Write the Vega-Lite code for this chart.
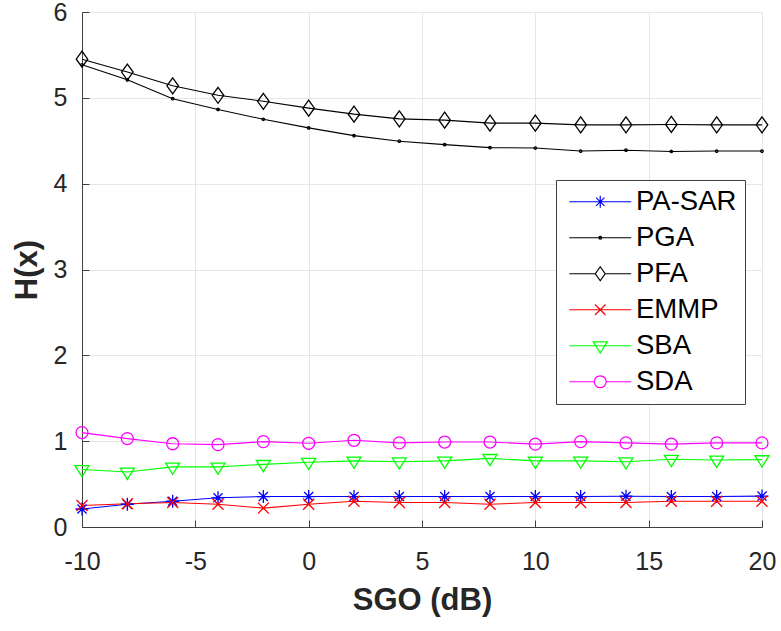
{
  "$schema": "https://vega.github.io/schema/vega-lite/v6.json",
  "width": 680,
  "height": 515,
  "autosize": {"type": "none"},
  "padding": {"left": 82, "top": 12, "right": 19, "bottom": 104},
  "background": "white",
  "config": {
    "view": {"stroke": null},
    "font": "Liberation Sans",
    "axis": {
      "labelFont": "Liberation Sans",
      "titleFont": "Liberation Sans",
      "labelFontSize": 25,
      "labelColor": "#262626",
      "titleColor": "#262626",
      "titleFontSize": 31,
      "titleFontWeight": "bold",
      "domainColor": "#404040",
      "tickColor": "#404040",
      "tickSize": -7,
      "gridColor": "#e6e6e6",
      "gridWidth": 1
    }
  },
  "data": {
    "values": [
      {"x": -10, "PA-SAR": 0.21, "PGA": 5.385, "PFA": 5.45, "EMMP": 0.25, "SBA": 0.67, "SDA": 1.10},
      {"x": -8, "PA-SAR": 0.265, "PGA": 5.21, "PFA": 5.30, "EMMP": 0.27, "SBA": 0.64, "SDA": 1.03},
      {"x": -6, "PA-SAR": 0.30, "PGA": 4.99, "PFA": 5.14, "EMMP": 0.285, "SBA": 0.70, "SDA": 0.97},
      {"x": -4, "PA-SAR": 0.34, "PGA": 4.865, "PFA": 5.03, "EMMP": 0.265, "SBA": 0.70, "SDA": 0.96},
      {"x": -2, "PA-SAR": 0.355, "PGA": 4.75, "PFA": 4.96, "EMMP": 0.22, "SBA": 0.73, "SDA": 0.995},
      {"x": 0, "PA-SAR": 0.355, "PGA": 4.65, "PFA": 4.88, "EMMP": 0.265, "SBA": 0.755, "SDA": 0.975},
      {"x": 2, "PA-SAR": 0.355, "PGA": 4.56, "PFA": 4.81, "EMMP": 0.30, "SBA": 0.77, "SDA": 1.01},
      {"x": 4, "PA-SAR": 0.355, "PGA": 4.495, "PFA": 4.755, "EMMP": 0.285, "SBA": 0.76, "SDA": 0.98},
      {"x": 6, "PA-SAR": 0.355, "PGA": 4.455, "PFA": 4.74, "EMMP": 0.285, "SBA": 0.77, "SDA": 0.99},
      {"x": 8, "PA-SAR": 0.355, "PGA": 4.42, "PFA": 4.705, "EMMP": 0.265, "SBA": 0.80, "SDA": 0.99},
      {"x": 10, "PA-SAR": 0.355, "PGA": 4.415, "PFA": 4.705, "EMMP": 0.285, "SBA": 0.77, "SDA": 0.965},
      {"x": 12, "PA-SAR": 0.355, "PGA": 4.38, "PFA": 4.685, "EMMP": 0.285, "SBA": 0.77, "SDA": 0.995},
      {"x": 14, "PA-SAR": 0.358, "PGA": 4.39, "PFA": 4.685, "EMMP": 0.285, "SBA": 0.76, "SDA": 0.98},
      {"x": 16, "PA-SAR": 0.355, "PGA": 4.375, "PFA": 4.69, "EMMP": 0.30, "SBA": 0.79, "SDA": 0.965},
      {"x": 18, "PA-SAR": 0.355, "PGA": 4.38, "PFA": 4.685, "EMMP": 0.30, "SBA": 0.78, "SDA": 0.98},
      {"x": 20, "PA-SAR": 0.36, "PGA": 4.38, "PFA": 4.685, "EMMP": 0.30, "SBA": 0.785, "SDA": 0.98}
    ]
  },
  "transform": [
    {"fold": ["PA-SAR", "PGA", "PFA", "EMMP", "SBA", "SDA"], "as": ["series", "y"]}
  ],
  "encoding": {
    "x": {
      "field": "x",
      "type": "quantitative",
      "scale": {"domain": [-10, 20], "nice": false, "zero": false},
      "axis": {"values": [-10, -5, 0, 5, 10, 15, 20], "title": "SGO (dB)", "labelPadding": 29, "titlePadding": 11, "labelFlush": false, "labelExpr": "'' + datum.value"}
    },
    "y": {
      "field": "y",
      "type": "quantitative",
      "scale": {"domain": [0, 6], "nice": false},
      "axis": {"values": [0, 1, 2, 3, 4, 5, 6], "title": "H(x)", "labelPadding": 22, "titlePadding": 10}
    }
  },
  "layer": [
    {
      "mark": {"type": "line", "strokeWidth": 1.1, "clip": false},
      "encoding": {
        "color": {
          "field": "series",
          "type": "nominal",
          "scale": {
            "domain": ["PA-SAR", "PGA", "PFA", "EMMP", "SBA", "SDA"],
            "range": ["#0000ff", "#000000", "#000000", "#ff0000", "#00ff00", "#ff00ff"]
          },
          "legend": null
        }
      }
    },
    {
      "mark": {"type": "point", "filled": false, "strokeWidth": 1.3, "opacity": 1, "clip": false},
      "encoding": {
        "color": {
          "field": "series",
          "type": "nominal",
          "scale": {
            "domain": ["PA-SAR", "PGA", "PFA", "EMMP", "SBA", "SDA"],
            "range": ["#0000ff", "#000000", "#000000", "#ff0000", "#00ff00", "#ff00ff"]
          },
          "legend": null
        },
        "shape": {
          "field": "series",
          "type": "nominal",
          "scale": {
            "domain": ["PA-SAR", "PGA", "PFA", "EMMP", "SBA", "SDA"],
            "range": [
              "M-1,0L1,0M0,-1L0,1M-0.7,-0.7L0.7,0.7M-0.7,0.7L0.7,-0.7",
              "circle",
              "M0,-1L0.72,0L0,1L-0.72,0Z",
              "M-1,-1L1,1M-1,1L1,-1",
              "M-1,-0.55L1,-0.55L0,1.05Z",
              "circle"
            ]
          },
          "legend": null
        },
        "size": {
          "field": "series",
          "type": "nominal",
          "scale": {
            "type": "ordinal",
            "domain": ["PA-SAR", "PGA", "PFA", "EMMP", "SBA", "SDA"],
            "range": [169, 6, 256, 121, 196, 144]
          },
          "legend": null
        }
      }
    },
    {
      "mark": {"type": "point", "filled": false, "opacity": 0, "strokeWidth": 1.2, "clip": false},
      "encoding": {
        "color": {
          "field": "series",
          "type": "nominal",
          "scale": {
            "domain": ["PA-SAR", "PGA", "PFA", "EMMP", "SBA", "SDA"],
            "range": ["#0000ff", "#000000", "#000000", "#ff0000", "#00ff00", "#ff00ff"]
          },
          "legend": {
            "title": null,
            "orient": "none",
            "legendX": 474,
            "legendY": 168,
            "padding": 8,
            "strokeColor": "#404040",
            "fillColor": "white",
            "labelFont": "Liberation Sans",
            "labelFontSize": 27.5,
            "labelColor": "#000000",
            "symbolSize": 196,
            "symbolOffset": 22.5,
            "labelOffset": 22,
            "rowPadding": 7,
            "symbolStrokeWidth": 1.2,
            "symbolOpacity": 1,
            "symbolFillColor": "transparent"
          }
        },
        "shape": {
          "field": "series",
          "type": "nominal",
          "scale": {
            "domain": ["PA-SAR", "PGA", "PFA", "EMMP", "SBA", "SDA"],
            "range": [
              "M-4.43,0L4.43,0M-0.85,0L0.85,0M0,-0.85L0,0.85M-0.6,-0.6L0.6,0.6M-0.6,0.6L0.6,-0.6",
              "M-4.43,0L4.43,0M-0.2,0A0.2,0.2,0,1,1,0.2,0A0.2,0.2,0,1,1,-0.2,0",
              "M-4.43,0L-0.7,0M0.7,0L4.43,0M0,-1L0.7,0L0,1L-0.7,0Z",
              "M-4.43,0L4.43,0M-0.75,-0.75L0.75,0.75M-0.75,0.75L0.75,-0.75",
              "M-4.43,0L4.43,0M-1,-0.55L1,-0.55L0,1.05Z",
              "M-4.43,0L-0.85,0M0.85,0L4.43,0M-0.85,0A0.85,0.85,0,1,1,0.85,0A0.85,0.85,0,1,1,-0.85,0"
            ]
          },
          "legend": {
            "title": null,
            "orient": "none",
            "legendX": 474,
            "legendY": 168,
            "padding": 8,
            "strokeColor": "#404040",
            "fillColor": "white",
            "labelFont": "Liberation Sans",
            "labelFontSize": 27.5,
            "labelColor": "#000000",
            "symbolSize": 196,
            "symbolOffset": 22.5,
            "labelOffset": 22,
            "rowPadding": 7,
            "symbolStrokeWidth": 1.2,
            "symbolOpacity": 1,
            "symbolFillColor": "transparent"
          }
        }
      }
    }
  ],
  "resolve": {"scale": {"shape": "independent", "size": "independent", "color": "independent"}}
}
